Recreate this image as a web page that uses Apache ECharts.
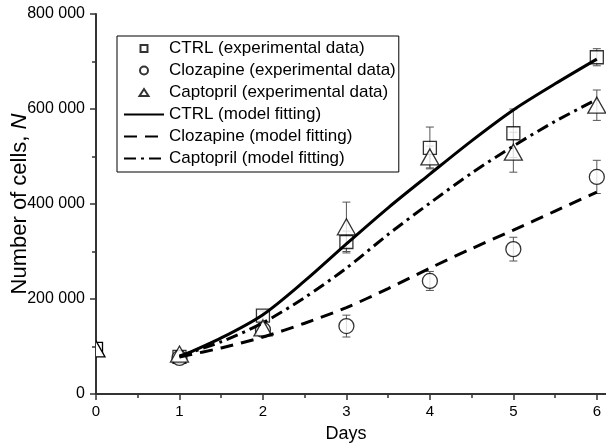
<!DOCTYPE html>
<html>
<head>
<meta charset="utf-8">
<script src="https://cdn.jsdelivr.net/npm/echarts@6/dist/echarts.min.js"></script>
<style>html,body{margin:0;padding:0;background:#fff}#c{width:606px;height:445px}</style>
</head>
<body>
<div id="c"></div>
<script>
// ---- data ----
var expDays = [0, 1, 2, 3, 4, 5, 6];
var ctrlExp = [95000, 78000, 165000, 320000, 518000, 549000, 709000];
var ctrlErr = [0, 5000, 10000, 23000, 44000, 51000, 18000];
var clozDays = [1, 2, 3, 4, 5, 6];
var clozExp = [76000, 135000, 143000, 238000, 305000, 457000];
var clozErr = [5000, 10000, 23000, 20000, 25000, 35000];
var captExp = [95000, 84000, 139000, 352000, 499000, 509000, 608000];
var captErr = [0, 5000, 8000, 52000, 23000, 42000, 32000];

var fitDays = [1, 1.5, 2, 2.5, 3, 3.5, 4, 4.5, 5, 5.5, 6];
var ctrlFit = [78000, 118000, 167000, 238000, 316000, 392000, 463000, 533000, 598000, 653000, 705000];
var clozFit = [78000, 97000, 120000, 149000, 182000, 222000, 265000, 306000, 345000, 385000, 425000];
var captFit = [80000, 110000, 150000, 203000, 265000, 336000, 402000, 465000, 522000, 574000, 620000];

var xMajorTicks = [0, 1, 2, 3, 4, 5, 6];
var xMinorTicks = [0.5, 1.5, 2.5, 3.5, 4.5, 5.5];

var names = ['CTRL (experimental data)', 'Clozapine (experimental data)', 'Captopril (experimental data)',
             'CTRL (model fitting)', 'Clozapine (model fitting)', 'Captopril (model fitting)'];

function pairs(xs, ys) { return xs.map(function (x, i) { return [x, ys[i]]; }); }
function errPairs(xs, ys, es) {
  var out = [];
  xs.forEach(function (x, i) { if (es[i] > 0) out.push([x, ys[i] - es[i], ys[i] + es[i]]); });
  return out;
}
var FONT = '"Liberation Sans", Arial, sans-serif';

function errSeries(data) {
  return {
    type: 'custom', data: data, z: 1, silent: true,
    encode: { x: 0, y: [1, 2] },
    renderItem: function (params, api) {
      var x = api.value(0), lo = api.value(1), hi = api.value(2);
      var p1 = api.coord([x, hi]), p2 = api.coord([x, lo]);
      var w = 4, st = { stroke: '#555', lineWidth: 1 };
      return { type: 'group', children: [
        { type: 'line', shape: { x1: p1[0], y1: p1[1], x2: p2[0], y2: p2[1] }, style: st },
        { type: 'line', shape: { x1: p1[0] - w, y1: p1[1], x2: p1[0] + w, y2: p1[1] }, style: st },
        { type: 'line', shape: { x1: p2[0] - w, y1: p2[1], x2: p2[0] + w, y2: p2[1] }, style: st }
      ] };
    }
  };
}
var markerStyle = { color: '#fff', borderColor: '#000', borderWidth: 1.3 };
var lineLegendHide = { color: 'rgba(0,0,0,0)', borderWidth: 0, opacity: 0 };
// legend icons: invisible move-to points pin the icon box to 40x8 so the mark keeps its shape
var iconSquare = 'path://M0,0M40,8M16.5,0.5h7v7h-7z';
var iconCircle = 'path://M0,0M40,8M24,4A4,4,0,1,1,16,4A4,4,0,1,1,24,4z';
var iconTriangle = 'path://M0,0M40,8M20,0.5L24.5,7.5L15.5,7.5z';

var chart = echarts.init(document.getElementById('c'), null, { renderer: 'canvas' });
chart.setOption({
  animation: false,
  backgroundColor: '#fff',
  textStyle: { fontFamily: FONT, color: '#000' },
  grid: { left: 96, right: 0, top: 14, bottom: 51, containLabel: false, outerBoundsMode: 'none' },
  legend: {
    data: [
      { name: names[0], icon: iconSquare },
      { name: names[1], icon: iconCircle },
      { name: names[2], icon: iconTriangle },
      { name: names[3], itemStyle: lineLegendHide },
      { name: names[4], itemStyle: lineLegendHide },
      { name: names[5], itemStyle: lineLegendHide }
    ],
    orient: 'vertical',
    left: 117, top: 36,
    padding: [4, 3, 5, 6],
    borderColor: '#000', borderWidth: 1,
    itemWidth: 40, itemHeight: 8, itemGap: 5,
    textStyle: { fontFamily: FONT, fontSize: 17, color: '#000' },
    selectedMode: false
  },
  xAxis: [{
    type: 'value', min: 0, max: 6.11,
    name: 'Days', nameLocation: 'middle', nameGap: 31, nameMoveOverlap: false,
    nameTextStyle: { fontFamily: FONT, fontSize: 18, color: '#000', padding: [0, 10, 0, 0] },
    axisLine: { show: true, onZero: false, lineStyle: { color: '#333', width: 2 } },
    axisTick: { show: true, length: 6, customValues: xMajorTicks, lineStyle: { color: '#333', width: 1.5 } },
    axisLabel: { customValues: xMajorTicks, margin: 10, fontSize: 15, color: '#000', fontFamily: FONT },
    splitLine: { show: false }
  }, {
    type: 'value', min: 0, max: 6.11, position: 'bottom',
    axisLine: { show: false },
    axisTick: { show: true, length: 4, customValues: xMinorTicks, lineStyle: { color: '#333', width: 1.5 } },
    axisLabel: { show: false },
    splitLine: { show: false }
  }],
  yAxis: {
    type: 'value', min: 0, max: 800000, interval: 200000,
    name: '{a|Number of cells, }{b|N}', nameLocation: 'middle', nameGap: 65, nameMoveOverlap: false,
    nameTextStyle: { fontFamily: FONT, fontSize: 22, color: '#000',
      rich: { a: { fontFamily: FONT, fontSize: 22, color: '#000' },
              b: { fontFamily: FONT, fontSize: 22, color: '#000', fontStyle: 'italic' } } },
    axisLine: { show: true, lineStyle: { color: '#333', width: 2 } },
    axisTick: { show: true, length: 6, lineStyle: { color: '#333', width: 1.5 } },
    minorTick: { show: true, splitNumber: 2, length: 4, lineStyle: { color: '#333', width: 1.5 } },
    axisLabel: { margin: 11, fontSize: 16, color: '#000', fontFamily: FONT,
      formatter: function (v) { return String(v).replace(/\B(?=(\d{3})+(?!\d))/g, ' '); } },
    splitLine: { show: false }
  },
  series: [
    errSeries(errPairs(expDays, ctrlExp, ctrlErr)),
    errSeries(errPairs(clozDays, clozExp, clozErr)),
    errSeries(errPairs(expDays, captExp, captErr)),
    // day-0 points sit on the y axis and are clipped by the plot area
    {
      type: 'custom', z: 2, clip: true, silent: true,
      data: [[expDays[0], ctrlExp[0], captExp[0]]],
      encode: { x: 0, y: [1, 2] },
      renderItem: function (params, api) {
        var pc = api.coord([api.value(0), api.value(1)]);
        var pt = api.coord([api.value(0), api.value(2)]);
        var st = { fill: '#fff', stroke: '#000', lineWidth: 1.3 };
        return { type: 'group', children: [
          { type: 'rect', shape: { x: pc[0] - 6.5, y: pc[1] - 6.5, width: 13, height: 13 }, style: st },
          { type: 'polygon', shape: { points: [[pt[0], pt[1] - 8], [pt[0] + 9, pt[1] + 8], [pt[0] - 9, pt[1] + 8]] }, style: st }
        ] };
      }
    },
    { name: names[0], type: 'scatter', data: pairs(expDays.slice(1), ctrlExp.slice(1)), symbol: 'rect', symbolSize: 13,
      itemStyle: markerStyle, z: 2 },
    { name: names[1], type: 'scatter', data: pairs(clozDays, clozExp), symbol: 'circle', symbolSize: 15,
      itemStyle: markerStyle, z: 2 },
    { name: names[2], type: 'scatter', data: pairs(expDays.slice(1), captExp.slice(1)), symbol: 'triangle', symbolSize: [18, 16],
      itemStyle: markerStyle, z: 2 },
    { name: names[3], type: 'line', data: pairs(fitDays, ctrlFit), smooth: 0.3, symbol: 'none', z: 3,
      lineStyle: { color: '#000', width: 3, type: 'solid' }, itemStyle: { color: '#000' } },
    { name: names[4], type: 'line', data: pairs(fitDays, clozFit), smooth: 0.3, symbol: 'none', z: 3,
      lineStyle: { color: '#000', width: 3, type: [13, 8] }, itemStyle: { color: '#000' } },
    { name: names[5], type: 'line', data: pairs(fitDays, captFit), smooth: 0.3, symbol: 'none', z: 3,
      lineStyle: { color: '#000', width: 3, type: [12, 5, 3, 5] }, itemStyle: { color: '#000' } }
  ]
});
</script>
</body>
</html>
